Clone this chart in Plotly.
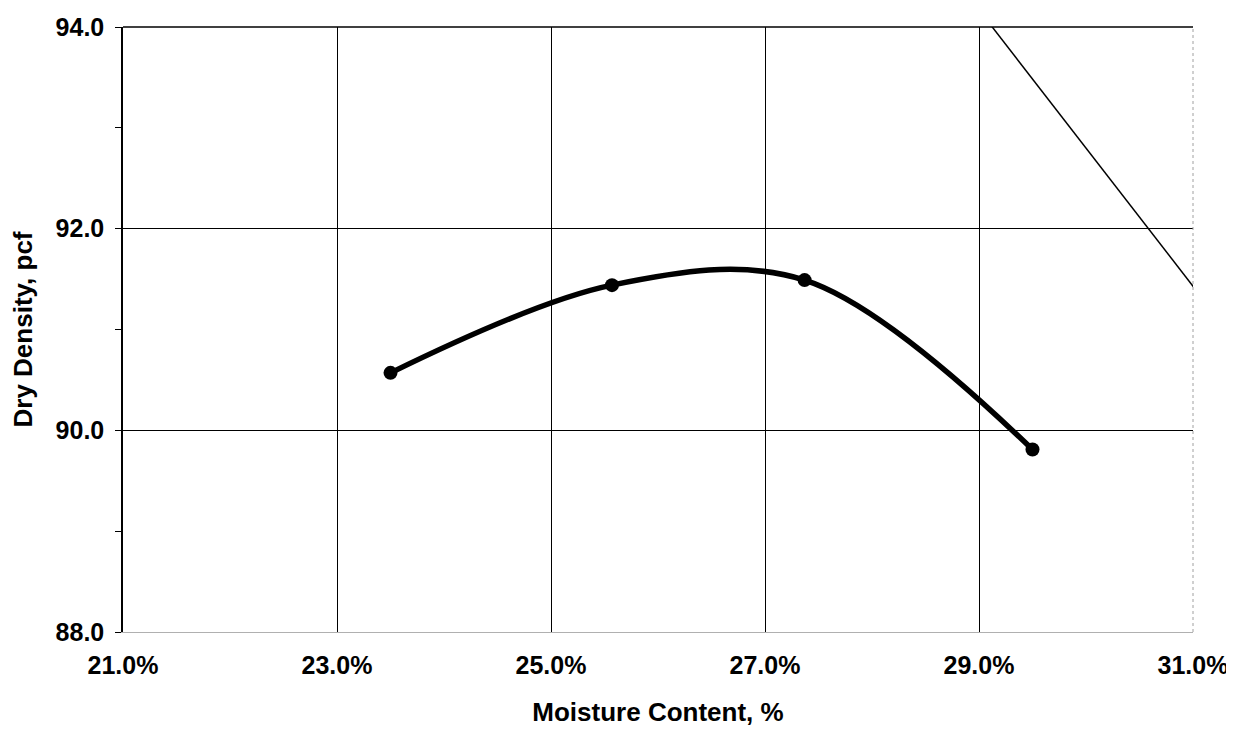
import plotly.graph_objects as go

# Data
moisture = [23.50, 25.57, 27.37, 29.50]          # %
dry_density = [90.57, 91.44, 91.49, 89.81]       # pcf
zav_moisture = [29.08, 31.08]                    # zero-air-voids line
zav_density = [94.06, 91.32]
x_ticks = [21, 23, 25, 27, 29, 31]
x_tick_text = ["21.0%", "23.0%", "25.0%", "27.0%", "29.0%", "31.0%"]
y_ticks = [88, 90, 92, 94]

FONT = "Arial, Liberation Sans, sans-serif"

fig = go.Figure()
fig.add_trace(go.Scatter(
    x=zav_moisture, y=zav_density, mode="lines",
    line=dict(color="black", width=1.5), showlegend=False, hoverinfo="skip"))
fig.add_trace(go.Scatter(
    x=moisture, y=dry_density, mode="lines+markers",
    line=dict(color="black", width=5.5, shape="spline", smoothing=1.0),
    marker=dict(color="black", size=14), showlegend=False))

fig.update_layout(
    width=1234, height=733,
    margin=dict(l=115, r=49, t=19, b=109),
    paper_bgcolor="white", plot_bgcolor="white",
    font=dict(family=FONT, size=25, color="black"),
    xaxis=dict(
        range=[21, 31], tickvals=x_ticks, ticktext=x_tick_text,
        showgrid=True, gridcolor="black", gridwidth=1,
        showline=True, linecolor="#b0b0b0", linewidth=1,
        ticks="", ticklabelstandoff=11, zeroline=False, automargin=False,
        tickfont=dict(family=FONT, size=25, color="black", weight="bold"),
        title=dict(text="<b>Moisture Content, %</b>", standoff=24,
                   font=dict(family=FONT, size=26, color="black")),
    ),
    yaxis=dict(
        range=[88, 94], tickvals=y_ticks, tickformat=".1f",
        showgrid=True, gridcolor="black", gridwidth=1,
        showline=True, linecolor="black", linewidth=1.5,
        ticks="outside", ticklen=6, tickcolor="black",
        minor=dict(dtick=1, tick0=88, ticks="outside", ticklen=6, tickcolor="black", showgrid=False),
        ticklabelstandoff=6, zeroline=False, automargin=False,
        tickfont=dict(family=FONT, size=25, color="black", weight="bold"),
        title=dict(text="<b>Dry Density, pcf</b>", standoff=24,
                   font=dict(family=FONT, size=26, color="black")),
    ),
    shapes=[
        dict(type="line", xref="paper", yref="paper", x0=0, x1=1, y0=1, y1=1,
             line=dict(color="black", width=1.5)),
        dict(type="line", xref="paper", yref="paper", x0=1, x1=1, y0=0, y1=1,
             line=dict(color="#a0a0a0", width=1, dash="dot")),
    ],
)

fig.write_html("out.html")
